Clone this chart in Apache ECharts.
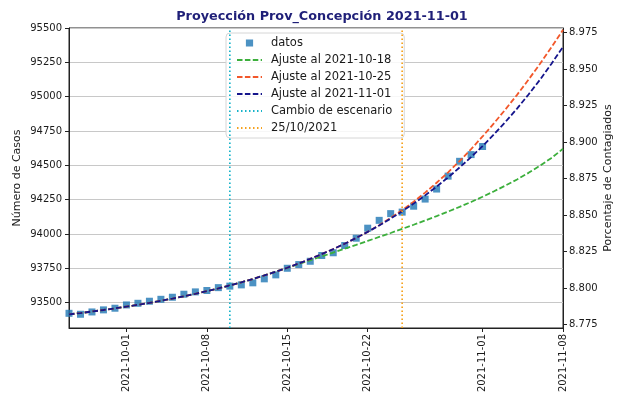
<!DOCTYPE html>
<html><head><meta charset="utf-8">
<script src="https://cdn.jsdelivr.net/npm/echarts@6/dist/echarts.min.js"></script>
<style>html,body{margin:0;padding:0;background:#fff}#c{width:620px;height:405px}</style>
</head><body><div id="c"></div>
<script>
const dates = [
 '2021-09-26','2021-09-27','2021-09-28','2021-09-29','2021-09-30',
 '2021-10-01','2021-10-02','2021-10-03','2021-10-04','2021-10-05','2021-10-06','2021-10-07','2021-10-08','2021-10-09','2021-10-10',
 '2021-10-11','2021-10-12','2021-10-13','2021-10-14','2021-10-15','2021-10-16','2021-10-17','2021-10-18','2021-10-19','2021-10-20',
 '2021-10-21','2021-10-22','2021-10-23','2021-10-24','2021-10-25','2021-10-26','2021-10-27','2021-10-28','2021-10-29','2021-10-30','2021-10-31',
 '2021-11-01','2021-11-02','2021-11-03','2021-11-04','2021-11-05','2021-11-06','2021-11-07','2021-11-08'
];
const datos = [
 93422,93415,93432,93447,93459,
 93483,93495,93510,93524,93539,93561,93578,93588,93609,93620,
 93629,93644,93673,93702,93750,93777,93801,93843,93863,93916,
 93969,94042,94099,94148,94159,94202,94254,94327,94421,94529,94578,
 94637
];
const ajuste1018 = [
 93414,93424,93435,93446,93458,
 93471,93484,93498,93513,93529,93546,93564,93583,93603,93625,
 93648,93672,93698,93725,93752,93780,93808,93836,93864,93892,
 93920,93949,93978,94007,94037,94067,94098,94130,94163,94197,94233,
 94271,94311,94353,94397,94445,94497,94554,94620
];
const ajuste1025 = [
 93414,93424,93435,93446,93458,
 93471,93484,93498,93513,93529,93546,93564,93583,93603,93625,
 93648,93672,93698,93725,93754,93785,93818,93853,93890,93929,
 93971,94015,94064,94117,94174,94235,94301,94373,94449,94531,94618,
 94710,94807,94908,95013,95124,95239,95360,95487
];
const ajuste1101 = [
 93414,93424,93435,93446,93458,
 93471,93484,93498,93513,93529,93546,93564,93583,93603,93625,
 93648,93672,93698,93725,93754,93785,93818,93853,93890,93929,
 93971,94015,94062,94112,94165,94221,94281,94345,94412,94484,94560,
 94640,94726,94817,94913,95016,95124,95240,95362
];
const cambioEscenario = '2021-10-10';
const fecha2510 = '2021-10-25';
const xTicks = ['2021-10-01','2021-10-08','2021-10-15','2021-10-22','2021-11-01','2021-11-08'];
const yTicksLeft = [93500,93750,94000,94250,94500,94750,95000,95250,95500];
const yTicksRight = [8.775,8.800,8.825,8.850,8.875,8.900,8.925,8.950,8.975];
const poblacion = 1063700;
const yMin = 93315, yMax = 95500;
const xMin = '2021-09-26', xMax = '2021-11-08';

function ts(s){ const p = s.split('-').map(Number); return Date.UTC(p[0], p[1]-1, p[2]); }
function fmt(v){ const d = new Date(Math.round(v)); const m = d.getUTCMonth()+1, dd = d.getUTCDate();
  return d.getUTCFullYear()+'-'+(m<10?'0':'')+m+'-'+(dd<10?'0':'')+dd; }
const pairs = arr => arr.map((v,i)=>[ts(dates[i]), v]);

const txt = '#1a1a1a';
const chart = echarts.init(document.getElementById('c'));
const dash = [5.5, 2.4];
const dot = [1.5, 2.5];
const noSym = { opacity: 0 };
chart.setOption({
  animation: false,
  backgroundColor: '#fff',
  title: { text: 'Proyección Prov_Concepción 2021-11-01', left: 317, top: 5, textAlign: 'center',
    textStyle: { fontFamily: 'DejaVu Sans', fontSize: 12.8, fontWeight: 'bold', color: '#1f1f78' } },
  grid: { left: 69, right: 57, top: 28, bottom: 77, show: true, borderColor: '#222', borderWidth: 1, outerBoundsMode: 'none' },
  legend: {
    orient: 'vertical', left: 226, top: 33,
    data: [
      { name: 'datos', icon: 'path://M0,0L0.01,0Z M2.4,2.4H9.6V9.6H2.4Z M12,12L11.99,12Z' },
      { name: 'Ajuste al 2021-10-18', itemStyle: noSym },
      { name: 'Ajuste al 2021-10-25', itemStyle: noSym },
      { name: 'Ajuste al 2021-11-01', itemStyle: noSym },
      { name: 'Cambio de escenario', itemStyle: noSym },
      { name: '25/10/2021', itemStyle: noSym }
    ],
    itemWidth: 25, itemHeight: 12, itemGap: 5,
    backgroundColor: 'rgba(255,255,255,0.85)', borderColor: '#d6d6d6', borderWidth: 1, borderRadius: 4,
    padding: [4, 12, 4, 10],
    textStyle: { fontFamily: 'DejaVu Sans', fontSize: 11.5, color: txt, padding: [0, 0, 0, 4] }
  },
  xAxis: {
    type: 'value', min: ts(xMin), max: ts(xMax),
    axisLine: { show: true, lineStyle: { color: '#222' } },
    axisTick: { show: true, length: 4, customValues: xTicks.map(ts), lineStyle: { color: '#222' } },
    axisLabel: { customValues: xTicks.map(ts), rotate: 90, formatter: v => fmt(v), fontFamily: 'DejaVu Sans', fontSize: 10, color: txt, margin: 6, hideOverlap: false },
    splitLine: { show: false }
  },
  yAxis: [
    { type: 'value', min: yMin, max: yMax, position: 'left',
      name: 'Número de Casos', nameLocation: 'middle', nameGap: 46, nameRotate: 90, nameMoveOverlap: false,
      nameTextStyle: { fontFamily: 'DejaVu Sans', fontSize: 11, color: txt },
      axisLine: { show: true, lineStyle: { color: '#222' } },
      axisTick: { show: true, length: 4, customValues: yTicksLeft, lineStyle: { color: '#222' } },
      axisLabel: { customValues: yTicksLeft, formatter: v => String(Math.round(v)), fontFamily: 'DejaVu Sans', fontSize: 10, color: txt, margin: 7 },
      splitLine: { show: true, lineStyle: { color: '#c8c8c8', width: 1 } } },
    { type: 'value', min: yMin/poblacion*100, max: yMax/poblacion*100, position: 'right',
      name: 'Porcentaje de Contagiados', nameLocation: 'middle', nameGap: 40, nameRotate: 90, nameMoveOverlap: false,
      nameTextStyle: { fontFamily: 'DejaVu Sans', fontSize: 11, color: txt },
      axisLine: { show: true, lineStyle: { color: '#222' } },
      axisTick: { show: true, length: 4, customValues: yTicksRight, lineStyle: { color: '#222' } },
      axisLabel: { customValues: yTicksRight, formatter: v => v.toFixed(3), fontFamily: 'DejaVu Sans', fontSize: 10, color: txt, margin: 6 },
      splitLine: { show: false } }
  ],
  series: [
    { name: 'datos', type: 'scatter', data: pairs(datos), symbol: 'rect', symbolSize: 7,
      itemStyle: { color: '#1f77b4' }, z: 2 },
    { name: 'Ajuste al 2021-10-18', type: 'line', data: pairs(ajuste1018), showSymbol: false, symbol: 'none',
      lineStyle: { color: '#3caf3c', width: 1.8, type: dash }, itemStyle: { color: '#3caf3c' }, z: 3 },
    { name: 'Ajuste al 2021-10-25', type: 'line', data: pairs(ajuste1025), showSymbol: false, symbol: 'none',
      lineStyle: { color: '#f2572a', width: 1.8, type: dash }, itemStyle: { color: '#f2572a' }, z: 3 },
    { name: 'Ajuste al 2021-11-01', type: 'line', data: pairs(ajuste1101), showSymbol: false, symbol: 'none',
      lineStyle: { color: '#15158c', width: 1.8, type: dash }, itemStyle: { color: '#15158c' }, z: 4 },
    { name: 'Cambio de escenario', type: 'line', data: [[ts(cambioEscenario), yMin], [ts(cambioEscenario), yMax]], showSymbol: false, symbol: 'none',
      lineStyle: { color: '#17b3c9', width: 1.7, type: dot }, itemStyle: { color: '#17b3c9' }, z: 5 },
    { name: '25/10/2021', type: 'line', data: [[ts(fecha2510), yMin], [ts(fecha2510), yMax]], showSymbol: false, symbol: 'none',
      lineStyle: { color: '#f5a21e', width: 1.7, type: dot }, itemStyle: { color: '#f5a21e' }, z: 5 }
  ]
});
</script></body></html>
